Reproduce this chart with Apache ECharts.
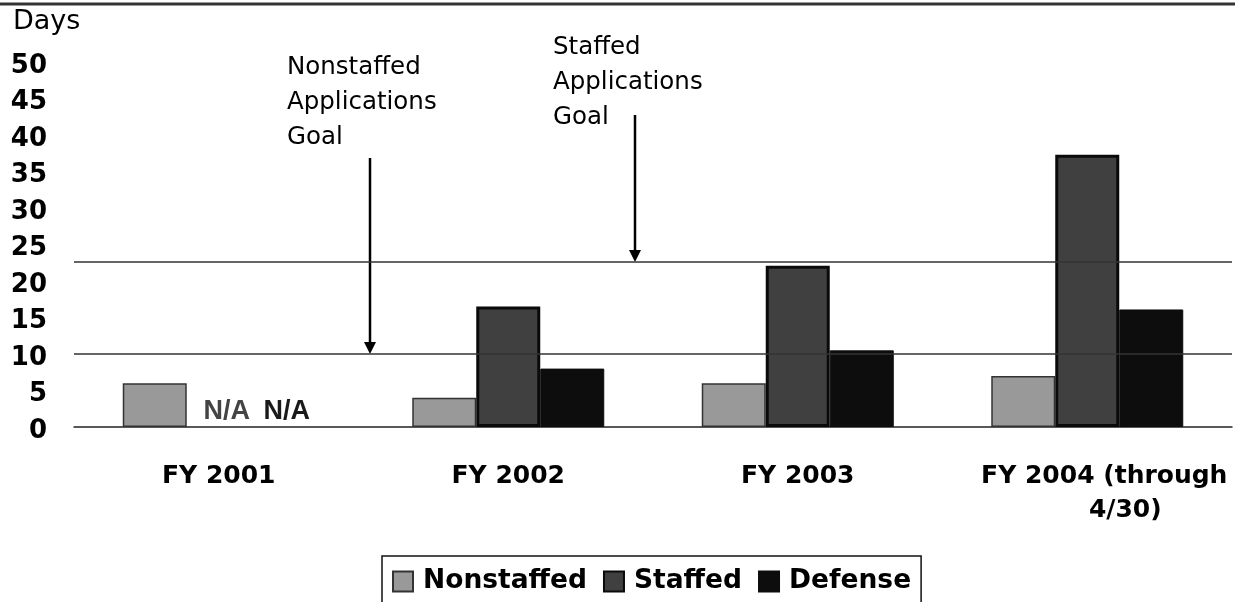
<!DOCTYPE html>
<html>
<head>
<meta charset="utf-8">
<script src="https://cdn.jsdelivr.net/npm/echarts@6/dist/echarts.min.js"></script>
<style>
	html, body { margin: 0; padding: 0; background: #fff; }
	#chart { width: 1235px; height: 602px; }
</style>
</head>
<body>
<div id="chart"></div>
<script>
	// 数据
	const categories = ['FY 2001', 'FY 2002', 'FY 2003', 'FY 2004 (through 4/30)'];
	const nonstaffed = [6, 4, 6, 7];
	const staffed = [null, 16.5, 22.1, 37.3];   // null = N/A
	const defense = [null, 8, 10.5, 16.1];
	const goals = [10, 22.6];   // nonstaffed goal, staffed goal
	const yTicks = [0, 5, 10, 15, 20, 25, 30, 35, 40, 45, 50];

	const font = 'DejaVu Sans';
	const chart = echarts.init(document.getElementById('chart'));

	function toItems(arr, naOffset) {
		return arr.map(v => v === null ? {
			value: 0,
			itemStyle: { borderWidth: 0 },
			label: {
				show: true,
				position: 'top',
				distance: 2,
				offset: [naOffset, 0],
				formatter: 'N/A',
				fontFamily: 'Liberation Sans',
				fontWeight: 'bold',
				fontSize: 27
			}
		} : v);
	}

	const option = {
		animation: false,
		grid: { left: 74, right: 3, top: 62, bottom: 175 },
		legend: {
			left: 382,
			top: 556,
			padding: [12, 10, 40, 10],
			borderColor: '#111',
			borderWidth: 1.5,
			itemWidth: 20,
			itemHeight: 20,
			itemGap: 16,
			icon: 'rect',
			textStyle: {
				fontFamily: font,
				fontWeight: 'bold',
				fontSize: 26.5,
				color: '#000',
				padding: [0, 0, 0, 5]
			},
			data: ['Nonstaffed', 'Staffed', 'Defense']
		},
		xAxis: {
			type: 'category',
			data: categories,
			axisLine: { lineStyle: { color: '#222', width: 1.5 } },
			axisTick: { show: false },
			axisLabel: {
				interval: 0,
				margin: 32,
				fontFamily: font,
				fontWeight: 'bold',
				fontSize: 25,
				color: '#000',
				lineHeight: 34,
				formatter: function (v) {
					if (v.indexOf('through') > 0) {
						return '{a|FY 2004 (through}\n{b|4/30)}';
					}
					return v;
				},
				rich: {
					a: { fontFamily: font, fontWeight: 'bold', fontSize: 25, color: '#000', lineHeight: 34, padding: [0, 0, 0, 34] },
					b: { fontFamily: font, fontWeight: 'bold', fontSize: 25, color: '#000', lineHeight: 34, padding: [0, 0, 0, 76] }
				}
			}
		},
		yAxis: {
			type: 'value',
			min: yTicks[0],
			max: yTicks[yTicks.length - 1],
			interval: 5,
			axisLine: { show: false },
			axisTick: { show: false },
			splitLine: { show: false },
			axisLabel: {
				margin: 27,
				formatter: '{v|{value}}',
				rich: {
					v: { fontFamily: font, fontWeight: 'bold', fontSize: 26, color: '#000', padding: [8, 0, 0, 0] }
				}
			}
		},
		series: [{
			name: 'Nonstaffed',
			type: 'bar',
			barWidth: 64,
			barGap: '0%',
			data: nonstaffed,
			itemStyle: { color: '#999999', borderColor: '#333', borderWidth: 1.5 },
			markLine: {
				silent: true,
				symbol: 'none',
				label: { show: false },
				lineStyle: { color: '#333', width: 1.5, type: 'solid' },
				data: goals.map(g => ({ yAxis: g }))
			}
		}, {
			name: 'Staffed',
			type: 'bar',
			barWidth: 64,
			barGap: '0%',
			data: toItems(staffed, 8),
			itemStyle: { color: '#404040', borderColor: '#0a0a0a', borderWidth: 3 },
			label: { color: '#444' }
		}, {
			name: 'Defense',
			type: 'bar',
			barWidth: 64,
			barGap: '0%',
			data: toItems(defense, 4),
			itemStyle: { color: '#0d0d0d', borderColor: '#0d0d0d', borderWidth: 1 },
			label: { color: '#1a1a1a' }
		}]
	};
	chart.setOption(option);

	// 注释和箭头
	const yNon = chart.convertToPixel({ yAxisIndex: 0 }, goals[0]);
	const ySt = chart.convertToPixel({ yAxisIndex: 0 }, goals[1]);
	function arrow(x, y0, y1) {
		return [{
			type: 'line',
			shape: { x1: x, y1: y0, x2: x, y2: y1 - 10 },
			style: { stroke: '#000', lineWidth: 2.5 }
		}, {
			type: 'polygon',
			shape: { points: [[x - 6, y1 - 12], [x + 6, y1 - 12], [x, y1]] },
			style: { fill: '#000' }
		}];
	}
	const noteStyle = { fontFamily: font, fontSize: 24.5, fill: '#000', lineHeight: 35, verticalAlign: 'top' };
	chart.setOption({
		graphic: [
			{ type: 'line', shape: { x1: 0, y1: 4, x2: 1235, y2: 4 }, style: { stroke: '#333', lineWidth: 3 } },
			{ type: 'text', left: 13, top: 8, style: { text: 'Days', fontFamily: font, fontSize: 27, fill: '#000' } },
			{ type: 'text', x: 287, y: 50, style: Object.assign({ text: 'Nonstaffed\nApplications\nGoal' }, noteStyle) },
			{ type: 'text', x: 553, y: 30, style: Object.assign({ text: 'Staffed\nApplications\nGoal' }, noteStyle) }
		].concat(arrow(370, 158, yNon), arrow(635, 115, ySt))
	});
</script>
</body>
</html>
